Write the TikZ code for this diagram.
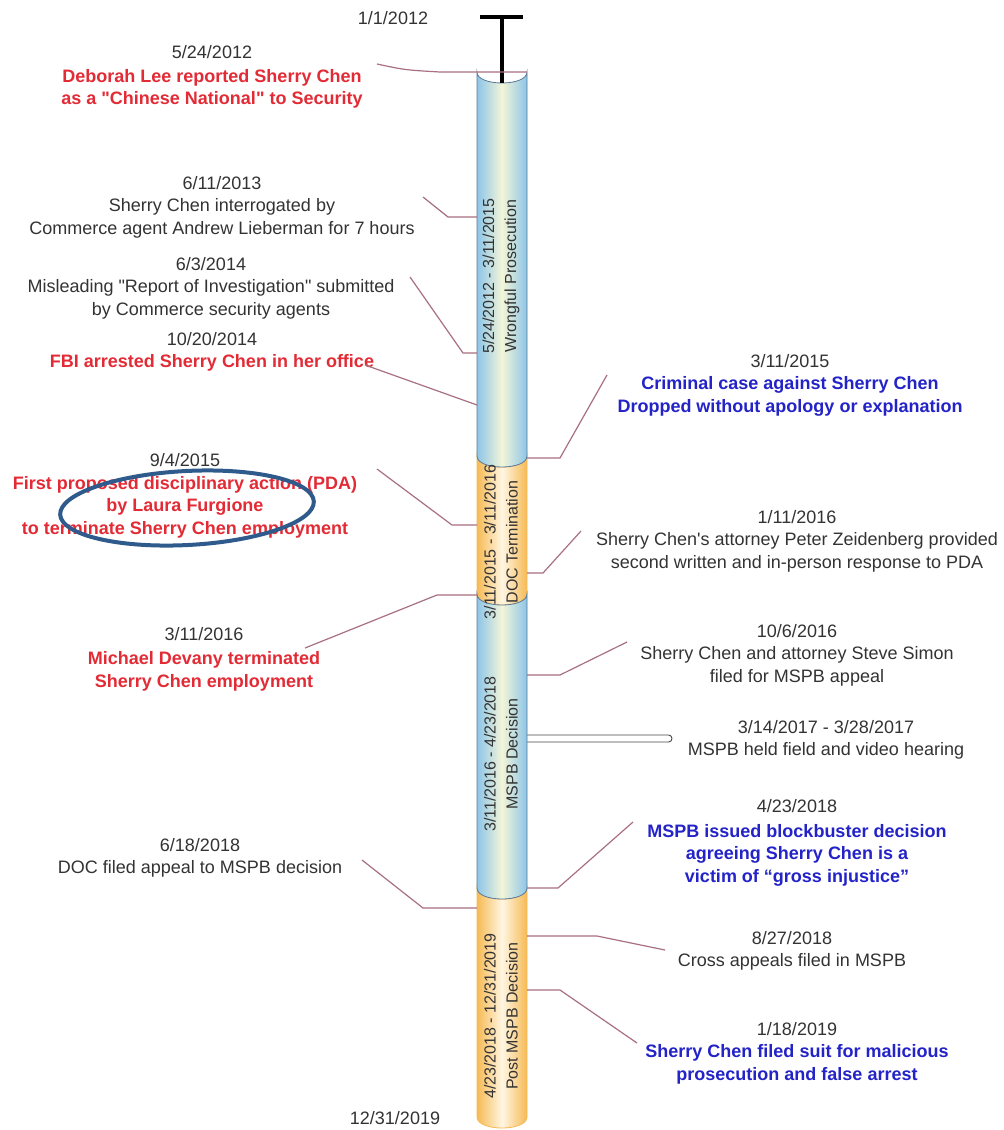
\documentclass[tikz,border=0pt]{standalone}
\usepackage{fontspec}
\setmainfont{Liberation Sans}
\definecolor{redc}{HTML}{E32B36}
\definecolor{bluec}{HTML}{2323C8}
\definecolor{txtc}{HTML}{333333}
\definecolor{leadc}{HTML}{A87080}
\definecolor{cylblue}{HTML}{8DC5E8}
\definecolor{cylpale}{HTML}{F3F5D8}
\definecolor{cylorange}{HTML}{F6BA55}
\definecolor{cylcream}{HTML}{FFF6E2}
\definecolor{cylline}{HTML}{5A7A96}
\definecolor{ellc}{HTML}{2E5A8C}
\newcommand\redtxt[1]{\textcolor{redc}{\bfseries #1}}
\newcommand\bluetxt[1]{\textcolor{bluec}{\bfseries #1}}
\newcommand\qq{\textquotedbl}
\newcommand\cylseg[5]{%
  \shade[left color=#3, right color=#3, middle color=#4, draw=#5, line width=0.8pt]
    (477,#1) .. controls (477,#1+14.67) and (527,#1+14.67) .. (527,#1)
    -- (527,#2) .. controls (527,#2+14.67) and (477,#2+14.67) .. (477,#2) -- cycle;}
\begin{document}
\begin{tikzpicture}[x=1pt,y=-1pt,
  evt/.style={align=center, text=txtc, inner sep=0pt, font=\fontsize{18}{22.5}\selectfont},
  cyltxt/.style={align=center, text=txtc, inner sep=0pt, rotate=90, font=\fontsize{16}{22}\selectfont},
  lead/.style={draw=leadc, line width=1.2pt},
  tbar/.style={draw=black, line width=4.5pt}]
\fill[white] (0,0) rectangle (1004,1130);
\useasboundingbox (0,0) rectangle (1004,1130);

% hearing bar
\coordinate (hb1) at (520,735);
\coordinate (hb2) at (672,742);
\draw[draw=txtc!90, fill=white, line width=0.9pt, rounded corners=3.5pt] (hb1) rectangle (hb2);

% cylinder segments (orange first, then blue so blue outlines stay visible)
\cylseg{456}{594}{cylorange}{cylcream}{cylorange}
\cylseg{888}{1117}{cylorange}{cylcream}{cylorange}
\cylseg{72}{456}{cylblue}{cylpale}{cylline}
\cylseg{594}{888}{cylblue}{cylpale}{cylline}

% cylinder texts
\node[cyltxt] (s1) at (501,276) {5/24/2012 - 3/11/2015\\Wrongful Prosecution};
\node[cyltxt] (s2) at (501,542) {3/11/2015 - 3/11/2016\\DOC Termination};
\node[cyltxt] (s3) at (501,754) {3/11/2016 - 4/23/2018\\MSPB Decision};
\node[cyltxt] (s4) at (501,1016) {4/23/2018 - 12/31/2019\\Post MSPB Decision};

% T bar
\coordinate (t1) at (480,17);
\coordinate (t2) at (523,17);
\coordinate (t3) at (502,17);
\coordinate (t4) at (502,83);
\draw[tbar] (t1) -- (t2);
\draw[tbar] (t3) -- (t4);

% event texts
\node[evt] (d0) at (393,18) {1/1/2012};
\node[evt] (d9) at (395,1118) {12/31/2019};
\node[evt] (e1) at (212,77) {5/24/2012\\[1pt]\redtxt{Deborah Lee reported Sherry Chen}\\\redtxt{as a \qq Chinese National\qq{} to Security}};
\node[evt] (e2) at (222,207) {6/11/2013\\Sherry Chen interrogated by\\Commerce agent Andrew Lieberman for 7 hours};
\node[evt] (e3) at (211,288) {6/3/2014\\Misleading \qq Report of Investigation\qq{} submitted\\by Commerce security agents};
\node[evt] (e4) at (212,352) {10/20/2014\\\redtxt{FBI arrested Sherry Chen in her office}};
\node[evt] (e5) at (185,496) {9/4/2015\\\redtxt{First proposed disciplinary action (PDA)}\\\redtxt{by Laura Furgione}\\\redtxt{to terminate Sherry Chen employment}};
\node[evt] (e6) at (204,659) {3/11/2016\\[2pt]\redtxt{Michael Devany terminated}\\\redtxt{Sherry Chen employment}};
\node[evt] (e7) at (200,858) {6/18/2018\\DOC filed appeal to MSPB decision};
\node[evt] (e8) at (790,385) {3/11/2015\\\bluetxt{Criminal case against Sherry Chen}\\\bluetxt{Dropped without apology or explanation}};
\node[evt] (e9) at (797,541) {1/11/2016\\Sherry Chen\textquotesingle s attorney Peter Zeidenberg provided\\second written and in-person response to PDA};
\node[evt] (e10) at (797,655) {10/6/2016\\Sherry Chen and attorney Steve Simon\\filed for MSPB appeal};
\node[evt] (e11) at (826,740) {3/14/2017 - 3/28/2017\\MSPB held field and video hearing};
\node[evt] (e12) at (797,843) {4/23/2018\\[2pt]\bluetxt{MSPB issued blockbuster decision}\\\bluetxt{agreeing Sherry Chen is a}\\\bluetxt{victim of “gross injustice”}};
\node[evt] (e13) at (792,951) {8/27/2018\\Cross appeals filed in MSPB};
\node[evt] (e14) at (797,1053) {1/18/2019\\\bluetxt{Sherry Chen filed suit for malicious}\\\bluetxt{prosecution and false arrest}};

% ellipse highlight
\draw[draw=ellc, line width=4pt, rotate around={3:(187,508)}] (187,508) ellipse [x radius=127pt, y radius=37pt];

% leader lines
\coordinate (a1) at (377,64);   \coordinate (c1) at (527,72);
\coordinate (a2) at (423,197);  \coordinate (c2) at (477,217);
\coordinate (a3) at (410,277);  \coordinate (c3) at (477,353);
\coordinate (a4) at (365,365);  \coordinate (c4) at (477,405);
\coordinate (a5) at (607,375);  \coordinate (c5) at (527,458);
\coordinate (a6) at (377,469);  \coordinate (c6) at (477,525);
\coordinate (a7) at (581,531);  \coordinate (c7) at (527,573);
\coordinate (a8) at (305,648);  \coordinate (c8) at (477,595);
\coordinate (a9) at (627,642);  \coordinate (c9) at (527,675);
\coordinate (a10) at (633,822); \coordinate (c10) at (527,888);
\coordinate (a11) at (362,860); \coordinate (c11) at (477,908);
\coordinate (a12) at (665,950); \coordinate (c12) at (527,936);
\coordinate (a13) at (637,1043);\coordinate (c13) at (527,990);

\draw[lead] (a1) .. controls (405,70) .. (440,72) -- (c1);
\draw[lead] (a2) -- (448,217) -- (c2);
\draw[lead] (a3) -- (463,353) -- (c3);
\draw[lead] (a4) -- (c4);
\draw[lead] (a5) -- (560,458) -- (c5);
\draw[lead] (a6) -- (452,525) -- (c6);
\draw[lead] (a7) -- (543,573) -- (c7);
\draw[lead] (a8) -- (437,595) -- (c8);
\draw[lead] (a9) -- (560,675) -- (c9);
\draw[lead] (a10) -- (558,888) -- (c10);
\draw[lead] (a11) -- (423,908) -- (c11);
\draw[lead] (c12) -- (597,936) -- (a12);
\draw[lead] (c13) -- (560,990) -- (a13);
\end{tikzpicture}
\end{document}
